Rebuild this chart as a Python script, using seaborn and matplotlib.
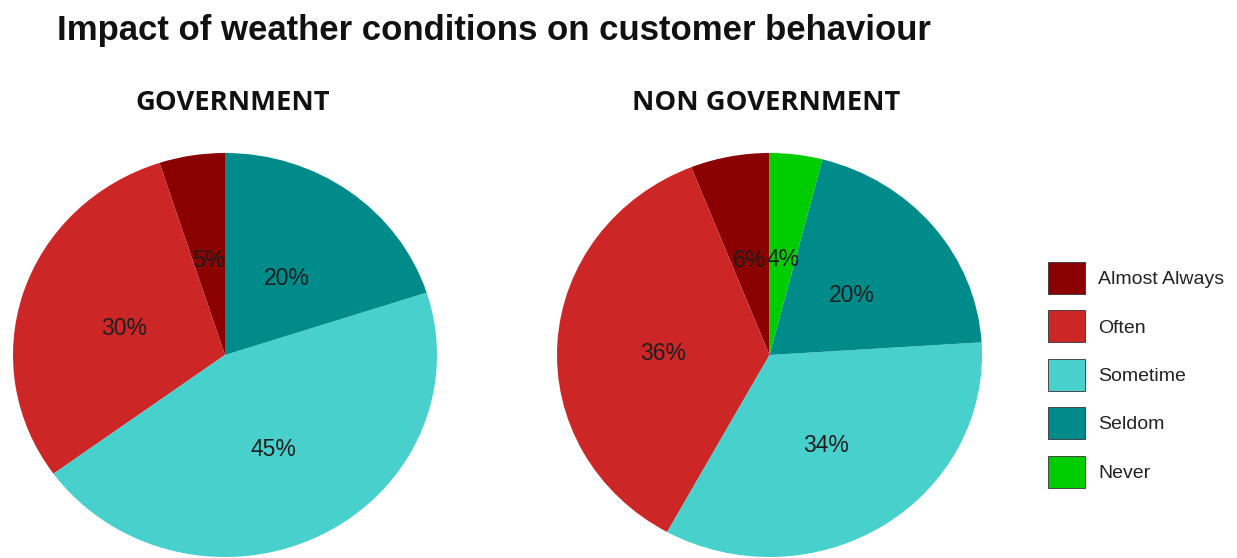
import matplotlib
matplotlib.use("Agg")
import matplotlib.pyplot as plt
import matplotlib.transforms as mtransforms
from matplotlib.patches import Patch
import seaborn as sns

# Survey responses (percent of respondents)
categories = ["Almost Always", "Often", "Sometime", "Seldom", "Never"]
government = [5, 30, 45, 20, 0]
non_government = [6, 36, 34, 20, 4]
panel_titles = ["GOVERNMENT", "NON GOVERNMENT"]
colors = ["#8B0000", "#CD2626", "#48D1CC", "#008B8B", "#00CD00"]

sns.set_theme(style="white")
plt.rcParams["font.family"] = ["Liberation Sans", "DejaVu Sans"]

W, H = 1237, 558
fig = plt.figure(figsize=(W / 100, H / 100), dpi=100)
fig.patch.set_facecolor("white")


def px_axes(left, top, right, bottom):
    return fig.add_axes([left / W, 1 - bottom / H, (right - left) / W, (bottom - top) / H])


boxes = [(13, 153, 437, 557), (557, 153, 982, 557)]
title_x = [233, 766]
label_shift = mtransforms.ScaledTranslation(0, -5 / 100, fig.dpi_scale_trans)

for values, box, name, tx in zip([government, non_government], boxes, panel_titles, title_x):
    ax = px_axes(*box)
    vals = [v for v in values if v > 0]
    cols = [c for c, v in zip(colors, values) if v > 0]
    _, _, pct_texts = ax.pie(vals, colors=cols, startangle=90, counterclock=True, radius=1,
                             autopct="%.0f%%", pctdistance=0.5, frame=False,
                             wedgeprops=dict(linewidth=0),
                             textprops=dict(fontsize=16.5, color="#1e1e1e"))
    for t in pct_texts:
        t.set_transform(ax.transData + label_shift)
    ax.set_xlim(-1, 1)
    ax.set_ylim(-1, 1)
    ax.set_aspect("auto")
    ax.axis("off")
    fig.text(tx / W, 1 - 110 / H, name, ha="center", va="baseline",
             fontsize=19.7, fontweight="bold", family=["Open Sans", "DejaVu Sans"],
             color="#111111")

fig.text(57 / W, 1 - 40 / H, "Impact of weather conditions on customer behaviour",
         ha="left", va="baseline", fontsize=25, fontweight="bold", color="#111111")

handles = [Patch(facecolor=c, edgecolor="#333333", linewidth=0.6) for c in colors]
fig.legend(handles, categories, loc="upper left",
           bbox_to_anchor=(1048 / W, 1 - 262 / H), frameon=False,
           fontsize=14, handlelength=1.9, handleheight=2.15,
           handletextpad=0.67, labelspacing=0.85, borderpad=0, borderaxespad=0,
           labelcolor="#222222")

fig.savefig("out.png", dpi=100, facecolor="white")
